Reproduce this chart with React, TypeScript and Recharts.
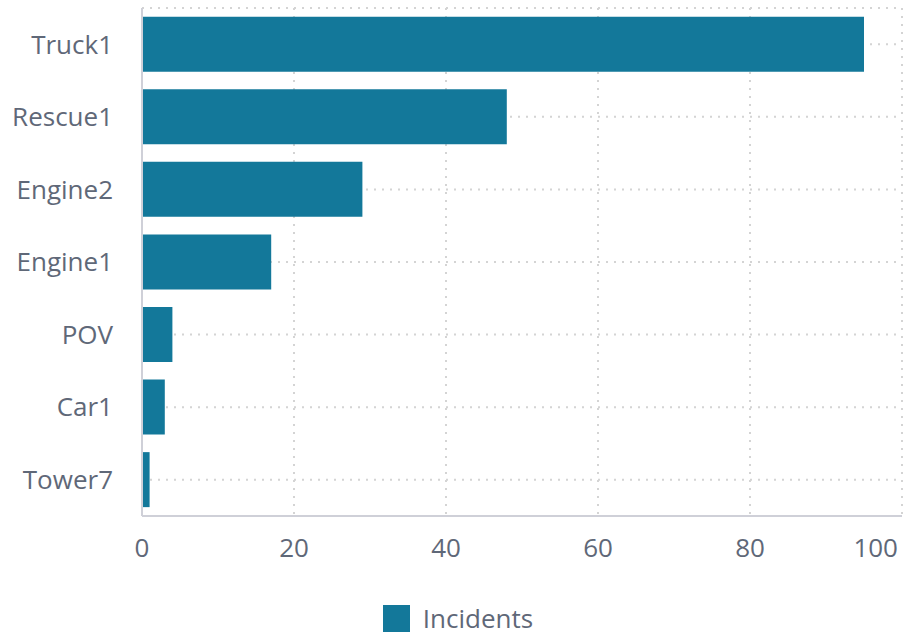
import React from "react";
import { BarChart, Bar, XAxis, YAxis, CartesianGrid, Legend } from "recharts";

const categories = ["Truck1", "Rescue1", "Engine2", "Engine1", "POV", "Car1", "Tower7"];
const incidents = [95, 48, 29, 17, 4, 3, 1];
const xTicks = [0, 20, 40, 60, 80, 100];

const data = categories.map((name, i) => ({ name, Incidents: incidents[i] }));

const BAR = "#13789a";
const TEXT = "#5f6878";
const FONT = "'Open Sans', sans-serif";
const FS = 26;

const LegendContent = () => (
  <div style={{ display: "flex", justifyContent: "center", alignItems: "center", paddingTop: 28, paddingLeft: 14 }}>
    <div style={{ width: 27, height: 27, background: BAR }} />
    <span style={{ marginLeft: 13, fontSize: FS, color: TEXT, fontFamily: FONT, lineHeight: "27px" }}>
      Incidents
    </span>
  </div>
);

const XTick = (props: any) => {
  const { x, y, payload } = props;
  const last = payload.value === xTicks[xTicks.length - 1];
  return (
    <text
      x={last ? x + 3 : x}
      y={y}
      dy="0.71em"
      textAnchor={last ? "end" : "middle"}
      fill={TEXT}
      fontSize={FS}
      fontFamily={FONT}
    >
      {payload.value}
    </text>
  );
};

export default function App() {
  return (
    <div style={{ position: "absolute", left: 0, top: 0, fontFamily: FONT }}>
      <BarChart
        width={907}
        height={637}
        data={data}
        layout="vertical"
        margin={{ top: 8, right: 5, left: 0, bottom: 0 }}
        barCategoryGap="12%"
      >
        <CartesianGrid stroke="#d4d4d4" strokeWidth={2} strokeDasharray="2 6" />
        <XAxis
          type="number"
          domain={[0, 100]}
          ticks={xTicks}
          tickLine={false}
          axisLine={{ stroke: "#cfd0d8", strokeWidth: 2 }}
          tick={<XTick />}
          tickMargin={17}
          height={61}
        />
        <YAxis
          type="category"
          dataKey="name"
          width={142}
          tickLine={false}
          axisLine={{ stroke: "#cfd0d8", strokeWidth: 2 }}
          tick={{ fill: TEXT, fontSize: FS, fontFamily: FONT }}
          tickMargin={23}
        />
        <Legend verticalAlign="bottom" height={60} content={<LegendContent />} />
        <Bar dataKey="Incidents" fill={BAR} isAnimationActive={false} />
      </BarChart>
    </div>
  );
}
